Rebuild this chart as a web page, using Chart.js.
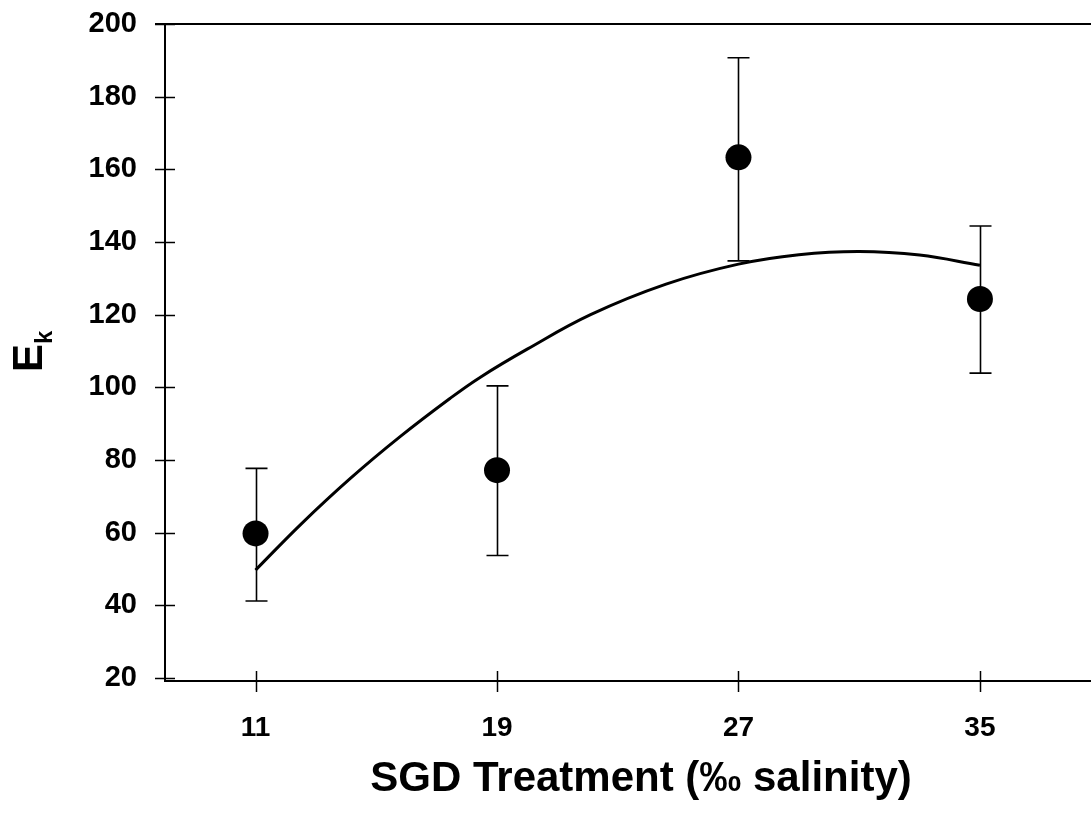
<!DOCTYPE html>
<html>
<head>
<meta charset="utf-8">
<script src="https://cdn.jsdelivr.net/npm/chart.js@4/dist/chart.umd.min.js"></script>
<style>
  html, body { margin: 0; padding: 0; background: #fff; }
  #c { display: block; }
</style>
</head>
<body>
<canvas id="c" width="1091" height="814"></canvas>
<script>
// tick labels
const xTicks = [11, 19, 27, 35];
const yTicks = [20, 40, 60, 80, 100, 120, 140, 160, 180, 200];

// treatment means with error bar ends
const salinity = [11, 19, 27, 35];
const ekMean = [59.8, 77.2, 163.3, 124.3];
const ekLow = [41.2, 53.7, 134.8, 103.9];
const ekHigh = [77.7, 100.4, 190.7, 144.4];

// fitted curve
const fitX = [11, 12.5, 14.15, 15.8, 17.45, 18.45, 20, 22.1, 24.6, 27, 29, 31, 33, 35];
const fitY = [49.7, 62.3, 75, 86.5, 97, 102.8, 110.5, 120, 128.4, 133.9, 136.5, 137.4, 136.4, 133.6];

const FONT = "'Liberation Sans', Arial, sans-serif";

const axisDeco = {
  id: 'axisDeco',
  beforeDatasetsDraw(chart) {
    const { ctx, chartArea: a, scales: { x, y } } = chart;
    ctx.save();
    ctx.strokeStyle = '#000';
    // top frame
    ctx.lineWidth = 2;
    ctx.beginPath();
    ctx.moveTo(a.left - 10, y.getPixelForValue(200));
    ctx.lineTo(chart.width, y.getPixelForValue(200));
    ctx.stroke();
    // ticks crossing the axes
    ctx.lineWidth = 1.5;
    yTicks.forEach(v => {
      const py = Math.round(y.getPixelForValue(v)) + 0.5;
      ctx.beginPath();
      ctx.moveTo(a.left - 10, py);
      ctx.lineTo(a.left + 10, py);
      ctx.stroke();
    });
    xTicks.forEach(v => {
      const px = Math.round(x.getPixelForValue(v)) + 0.5;
      ctx.beginPath();
      ctx.moveTo(px, a.bottom - 10);
      ctx.lineTo(px, a.bottom + 11);
      ctx.stroke();
    });
    // error bars
    ctx.lineWidth = 1.6;
    salinity.forEach((s, i) => {
      const px = Math.round(x.getPixelForValue(s)) + 0.5;
      const pt = y.getPixelForValue(ekHigh[i]);
      const pb = y.getPixelForValue(ekLow[i]);
      ctx.beginPath();
      ctx.moveTo(px, pt); ctx.lineTo(px, pb);
      ctx.moveTo(px - 11, pt); ctx.lineTo(px + 11, pt);
      ctx.moveTo(px - 11, pb); ctx.lineTo(px + 11, pb);
      ctx.stroke();
    });
    ctx.restore();
  },
  afterDraw(chart) {
    const { ctx } = chart;
    ctx.save();
    ctx.fillStyle = '#000';
    // x title
    ctx.font = 'bold 42px ' + FONT;
    ctx.textAlign = 'center';
    ctx.textBaseline = 'middle';
    ctx.fillText('SGD Treatment (\u2030 salinity)', 641, 779);
    // y title E with subscript k
    ctx.translate(42, 372);
    ctx.rotate(-Math.PI / 2);
    ctx.textAlign = 'left';
    ctx.textBaseline = 'alphabetic';
    ctx.font = 'bold 42px ' + FONT;
    ctx.fillText('E', 0, 0);
    const w = ctx.measureText('E').width;
    ctx.font = 'bold 24px ' + FONT;
    ctx.fillText('k', w, 10);
    ctx.restore();
  }
};

new Chart(document.getElementById('c').getContext('2d'), {
  type: 'scatter',
  data: {
    datasets: [
      {
        data: salinity.map((s, i) => ({ x: s, y: ekMean[i] })),
        pointRadius: 13,
        pointHoverRadius: 13,
        pointBackgroundColor: '#000',
        pointBorderColor: '#000',
        borderWidth: 0,
        showLine: false,
      },
      {
        data: fitX.map((v, i) => ({ x: v, y: fitY[i] })),
        showLine: true,
        borderColor: '#000',
        borderWidth: 3,
        pointRadius: 0,
        tension: 0.4,
        fill: false,
      },
    ],
  },
  options: {
    responsive: false,
    animation: false,
    layout: { autoPadding: false, padding: { top: 24, right: 0, left: 0, bottom: 0 } },
    plugins: { legend: { display: false }, tooltip: { enabled: false } },
    scales: {
      x: {
        type: 'linear',
        min: 8,
        max: 38.68,
        afterBuildTicks: s => { s.ticks = xTicks.map(v => ({ value: v })); },
        afterFit: s => { s.height = 133; s.paddingLeft = 0; s.paddingRight = 0; },
        grid: { display: false, drawTicks: false },
        border: { display: true, color: '#000', width: 2 },
        ticks: {
          autoSkip: false,
          padding: 30,
          color: '#000',
          font: { family: FONT, size: 28, weight: 'bold' },
        },
      },
      y: {
        type: 'linear',
        min: 19.17,
        max: 200,
        afterBuildTicks: s => { s.ticks = yTicks.map(v => ({ value: v })); },
        afterFit: s => { s.width = 165; s.paddingTop = 0; s.paddingBottom = 0; },
        grid: { display: false, drawTicks: false },
        border: { display: true, color: '#000', width: 2 },
        ticks: {
          autoSkip: false,
          padding: 28,
          color: '#000',
          font: { family: FONT, size: 29, weight: 'bold' },
        },
      },
    },
  },
  plugins: [axisDeco],
});
</script>
</body>
</html>
